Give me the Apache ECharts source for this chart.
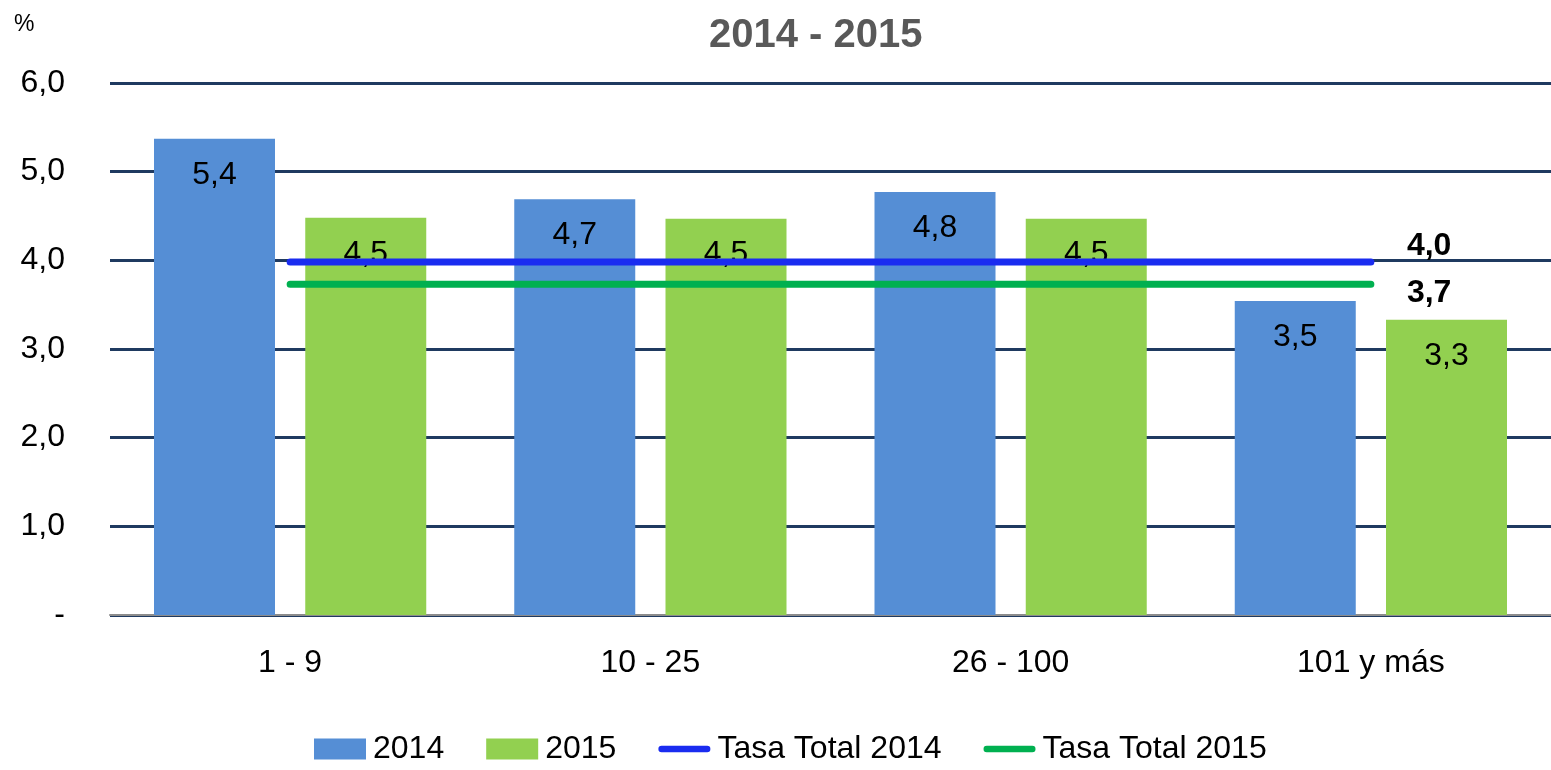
<!DOCTYPE html>
<html>
<head>
<meta charset="utf-8">
<script src="https://cdn.jsdelivr.net/npm/echarts@6/dist/echarts.min.js"></script>
<style>
  html, body { margin: 0; padding: 0; background: #fff; }
  #chart { width: 1551px; height: 770px; }
</style>
</head>
<body>
<div id="chart"></div>
<script>
// datos
const categorias = ['1 - 9', '10 - 25', '26 - 100', '101 y más'];
const valores2014 = [5.37, 4.69, 4.77, 3.54];
const valores2015 = [4.48, 4.47, 4.47, 3.33];
const tasaTotal2014 = [3.98, 3.98, 3.98, 3.98];
const tasaTotal2015 = [3.73, 3.73, 3.73, 3.73];

const fuente = 'Liberation Sans';
// icono de linea redondeada para la leyenda
const iconoLinea = 'path://M3.5,0 H53.5 A3.5,3.5 0 0 1 53.5,7 H3.5 A3.5,3.5 0 0 1 3.5,0 Z';

function coma(v, dec) {
  return v.toFixed(dec).replace('.', ',');
}

let myChart = echarts.init(document.getElementById('chart'));

let option = {
  animation: false,
  textStyle: { fontFamily: fuente },
  title: {
    text: '2014 - 2015',
    left: 704,
    top: 11,
    textStyle: { fontSize: 40, fontWeight: 'bold', color: '#595959', fontFamily: fuente }
  },
  graphic: [{
    type: 'text',
    left: 14,
    top: 13,
    style: { text: '%', fontSize: 23, fill: '#000', fontFamily: fuente }
  }],
  legend: {
    bottom: 0,
    left: 309,
    itemWidth: 52,
    itemHeight: 21,
    itemGap: 42,
    textStyle: { fontSize: 32, color: '#000', padding: [0, 0, 0, 2] },
    data: [
      { name: '2014', icon: 'rect' },
      { name: '2015', icon: 'rect' },
      { name: 'Tasa Total 2014', icon: iconoLinea },
      { name: 'Tasa Total 2015', icon: iconoLinea }
    ]
  },
  grid: {
    left: 110,
    right: 0,
    top: 83,
    bottom: 155
  },
  xAxis: {
    type: 'category',
    data: categorias,
    axisTick: { show: false },
    axisLine: { lineStyle: { color: '#8c8c8c', width: 2 } },
    axisLabel: { fontSize: 32, color: '#000', margin: 32 }
  },
  yAxis: {
    type: 'value',
    min: 0,
    max: 6,
    interval: 1,
    axisLine: { show: false },
    axisTick: { show: false },
    axisLabel: {
      fontSize: 32,
      color: '#000',
      margin: 45,
      formatter: function (v) { return v === 0 ? '-' : coma(v, 1); }
    },
    splitLine: {
      lineStyle: { color: '#1f3a60', width: 3 }
    }
  },
  series: [
    {
      name: '2014',
      type: 'bar',
      data: valores2014,
      barWidth: 121,
      barGap: '25%',
      itemStyle: { color: '#558ed5' },
      label: {
        show: true,
        position: 'insideTop',
        distance: 20,
        fontSize: 32,
        color: '#000',
        formatter: function (p) { return coma(p.value, 1); }
      }
    },
    {
      name: '2015',
      type: 'bar',
      data: valores2015,
      barWidth: 121,
      itemStyle: { color: '#92d050' },
      label: {
        show: true,
        position: 'insideTop',
        distance: 20,
        fontSize: 32,
        color: '#000',
        formatter: function (p) { return coma(p.value, 1); }
      }
    },
    {
      name: 'Tasa Total 2014',
      type: 'line',
      data: tasaTotal2014,
      symbol: 'none',
      lineStyle: { color: '#1a2cf0', width: 7, cap: 'round' },
      itemStyle: { color: '#1a2cf0' },
      endLabel: {
        show: true,
        fontSize: 32,
        fontWeight: 'bold',
        color: '#000',
        distance: 36,
        offset: [0, -16],
        formatter: function (p) { return coma(p.value, 1); }
      },
      z: 5
    },
    {
      name: 'Tasa Total 2015',
      type: 'line',
      data: tasaTotal2015,
      symbol: 'none',
      lineStyle: { color: '#00b050', width: 7, cap: 'round' },
      itemStyle: { color: '#00b050' },
      endLabel: {
        show: true,
        fontSize: 32,
        fontWeight: 'bold',
        color: '#000',
        distance: 36,
        offset: [0, 9],
        formatter: function (p) { return coma(p.value, 1); }
      },
      z: 5
    }
  ]
};

myChart.setOption(option);
window.addEventListener('resize', function () {
  myChart.resize();
});
</script>
</body>
</html>
